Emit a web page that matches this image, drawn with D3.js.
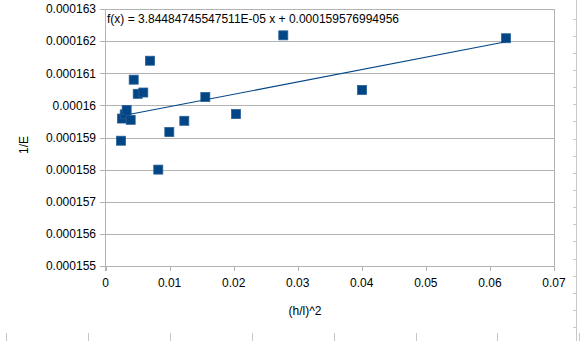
<!DOCTYPE html>
<html><head><meta charset="utf-8">
<script src="https://cdn.jsdelivr.net/npm/d3@7"></script>
<style>body{margin:0;background:#fff}svg{display:block;font-family:"Liberation Sans",Arial,sans-serif}</style>
</head><body>
<svg id="c" width="580" height="341"></svg>
<script>
const xValues = [0.00242, 0.00258, 0.0030, 0.0033, 0.00393, 0.0044, 0.00503, 0.0059, 0.00695, 0.00824, 0.00996, 0.0123, 0.01558, 0.02037, 0.02775, 0.04003, 0.0625];
const yValues = [0.0001589, 0.00015959, 0.00015972, 0.00015986, 0.00015955, 0.0001608, 0.00016036, 0.0001604, 0.00016139, 0.000158, 0.00015917, 0.00015952, 0.00016026, 0.00015973, 0.00016218, 0.00016048, 0.00016209];
const xTicks = [0, 0.01, 0.02, 0.03, 0.04, 0.05, 0.06, 0.07];
const yTicks = [0.000155, 0.000156, 0.000157, 0.000158, 0.000159, 0.00016, 0.000161, 0.000162, 0.000163];
const yTickLabels = ["0.000155","0.000156","0.000157","0.000158","0.000159","0.00016","0.000161","0.000162","0.000163"];
const slope = 3.84484745547511E-05, intercept = 0.000159576994956;
const equation = "f(x) = 3.84484745547511E-05 x + 0.000159576994956";

const svg = d3.select("#c");
const x = d3.scaleLinear().domain([0, 0.07]).range([105.5, 554]);
const y = d3.scaleLinear().domain([0.000155, 0.000163]).range([266, 9]);
const grid = "#b3b3b3";

// decorative sheet edges
const deco = svg.append("g").attr("stroke", "#c8c8c8").attr("stroke-width", 1);
deco.append("line").attr("x1", 576.5).attr("x2", 576.5).attr("y1", 0).attr("y2", 341);
deco.selectAll(".rt").data(d3.range(18.5, 341, 17.15)).join("line")
  .attr("x1", 573).attr("x2", 576.5).attr("y1", d => Math.round(d) + 0.5).attr("y2", d => Math.round(d) + 0.5);
deco.selectAll(".bt").data(d3.range(6, 581, 81.9)).join("line")
  .attr("x1", d => Math.round(d) + 0.5).attr("x2", d => Math.round(d) + 0.5).attr("y1", 333).attr("y2", 341);

// horizontal gridlines
svg.append("g").selectAll("line").data(yTicks).join("line")
  .attr("x1", 100).attr("x2", 554.5)
  .attr("y1", d => Math.round(y(d)) + 0.5).attr("y2", d => Math.round(y(d)) + 0.5)
  .attr("stroke", grid);
// axes lines
svg.append("line").attr("x1", 105.5).attr("x2", 105.5).attr("y1", 9).attr("y2", 271).attr("stroke", grid);
svg.append("line").attr("x1", 554.5).attr("x2", 554.5).attr("y1", 9).attr("y2", 271).attr("stroke", grid);
svg.append("g").selectAll("line").data(xTicks).join("line")
  .attr("x1", d => Math.round(x(d)) + 0.5).attr("x2", d => Math.round(x(d)) + 0.5)
  .attr("y1", 266).attr("y2", 271).attr("stroke", grid);

// tick labels
svg.append("g").selectAll("text").data(yTicks).join("text")
  .attr("x", 96).attr("y", d => y(d) + 4.3).attr("text-anchor", "end")
  .attr("font-size", 12).attr("fill", "#000").text((d, i) => yTickLabels[i]);
svg.append("g").selectAll("text").data(xTicks).join("text")
  .attr("x", d => x(d)).attr("y", 287).attr("text-anchor", "middle")
  .attr("font-size", 12).attr("fill", "#000").text(d => d === 0 ? "0" : d3.format(".2f")(d));

// axis titles
svg.append("text").attr("transform", "translate(28,145) rotate(-90)").attr("text-anchor", "middle")
  .attr("font-size", 12).attr("fill", "#000").text("1/E");
svg.append("text").attr("x", 305).attr("y", 315).attr("text-anchor", "middle")
  .attr("font-size", 12).attr("fill", "#000").text("(h/l)^2");

// points
const pts = xValues.map((v, i) => [v, yValues[i]]);
svg.append("g").selectAll("rect").data(pts).join("rect")
  .attr("x", d => x(d[0]) - 4.5).attr("y", d => y(d[1]) - 4.5)
  .attr("width", 9).attr("height", 9).attr("fill", "#004586")
  .attr("stroke", "#2a5f95").attr("stroke-width", 0.8);

// trendline
const xmin = d3.min(xValues), xmax = d3.max(xValues);
svg.append("line")
  .attr("x1", x(xmin)).attr("y1", y(slope * xmin + intercept))
  .attr("x2", x(xmax)).attr("y2", y(slope * xmax + intercept))
  .attr("stroke", "#004586").attr("stroke-width", 1.1);

// equation
svg.append("text").attr("x", 107).attr("y", 23).attr("font-size", 12).attr("fill", "#000").text(equation);
</script>
</body></html>
